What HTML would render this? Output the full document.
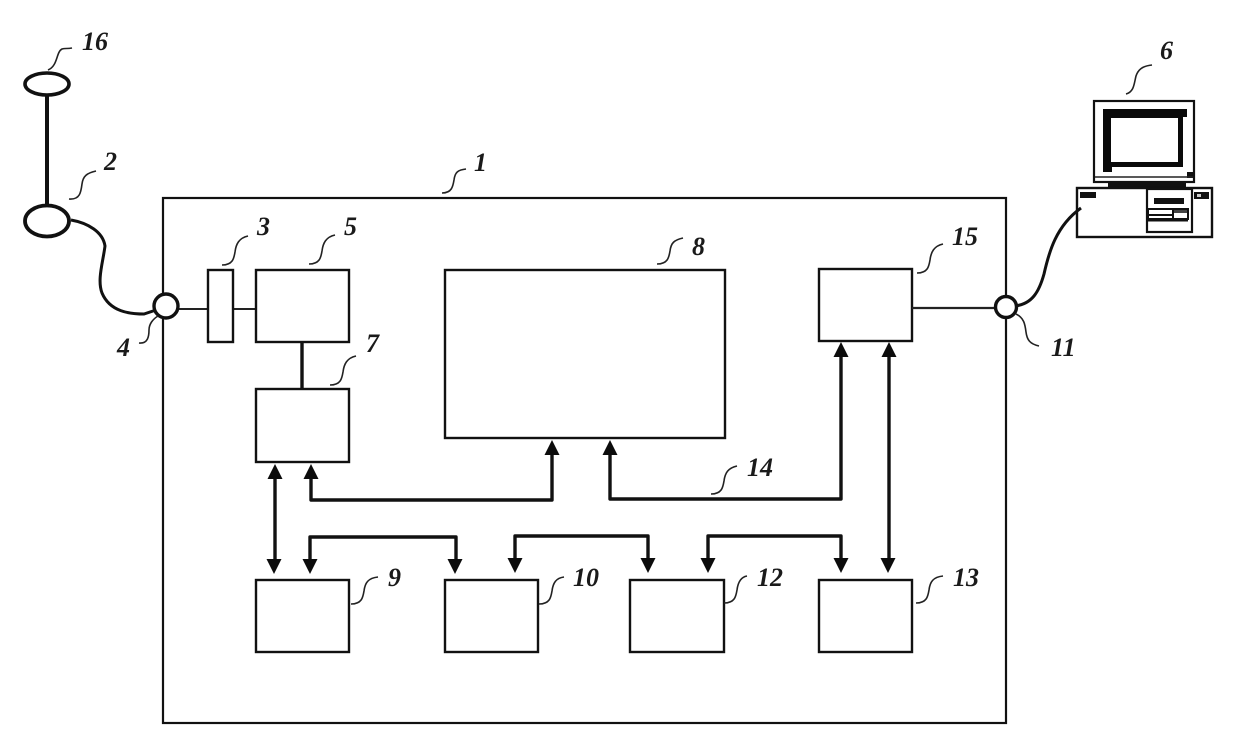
<!DOCTYPE html>
<html><head><meta charset="utf-8"><style>
html,body{margin:0;padding:0;background:#fff}
svg{display:block}
text{font-family:"Liberation Serif",serif;font-weight:bold;font-style:italic;font-size:26px;fill:#1a1a1a}
.b{fill:#fff;stroke:#111;stroke-width:2.4}
.l{fill:none;stroke:#222;stroke-width:1.6}
.w{fill:none;stroke:#111;stroke-width:3.4;stroke-linejoin:round}
.h{fill:#0c0c0c}
</style></head><body>
<svg width="1240" height="751" viewBox="0 0 1240 751" xmlns="http://www.w3.org/2000/svg">
<rect width="1240" height="751" fill="#fff"/>
<rect x="163" y="198" width="843" height="525" fill="none" stroke="#111" stroke-width="2.2"/>
<line x1="47" y1="95" x2="47" y2="205" stroke="#111" stroke-width="4"/>
<ellipse cx="47" cy="84" rx="22" ry="11" fill="#fff" stroke="#111" stroke-width="3.6"/>
<ellipse cx="47" cy="221" rx="22" ry="15.500" fill="#fff" stroke="#111" stroke-width="3.8"/>
<path d="M71 220C88 223 103 232 105 246C103 262 97 280 102 293C110 312 130 314 144 314L156 310" fill="none" stroke="#111" stroke-width="3"/>
<line x1="178" y1="309" x2="256" y2="309" stroke="#222" stroke-width="2"/>
<rect x="208" y="270" width="25" height="72" class="b"/>
<circle cx="166" cy="306" r="12" fill="#fff" stroke="#111" stroke-width="3.4"/>
<rect x="256" y="270" width="93" height="72" class="b"/>
<rect x="256" y="389" width="93" height="73" class="b"/>
<line x1="302" y1="342" x2="302" y2="389" stroke="#111" stroke-width="3.4"/>
<rect x="445" y="270" width="280" height="168" class="b"/>
<rect x="819" y="269" width="93" height="72" class="b"/>
<rect x="256" y="580" width="93" height="72" class="b"/>
<rect x="445" y="580" width="93" height="72" class="b"/>
<rect x="630" y="580" width="94" height="72" class="b"/>
<rect x="819" y="580" width="93" height="72" class="b"/>
<line x1="912" y1="308" x2="996" y2="308" stroke="#222" stroke-width="2.2"/>
<circle cx="1006" cy="307" r="10.500" fill="#fff" stroke="#111" stroke-width="3.4"/>
<path class="w" d="M275 475V562"/>
<path class="h" d="M275 464l7.500 15h-15zM274 574l-7.500-15h15z"/>
<path class="w" d="M311 475V500H552V452"/>
<path class="h" d="M311 464l7.500 15h-15zM552 440l7.500 15h-15z"/>
<path class="w" d="M610 452V499H841V354"/>
<path class="h" d="M610 440l7.500 15h-15zM841 342l7.500 15h-15z"/>
<path class="w" d="M889 354V562"/>
<path class="h" d="M889 342l7.500 15h-15zM888 573l-7.500-15h15z"/>
<path class="w" d="M310 562V537H456V562"/>
<path class="h" d="M310 574l-7.500-15h15zM455 574l-7.500-15h15z"/>
<path class="w" d="M515 562V536H648V562"/>
<path class="h" d="M515 573l-7.500-15h15zM648 573l-7.500-15h15z"/>
<path class="w" d="M708 562V536H841V562"/>
<path class="h" d="M708 573l-7.500-15h15zM841 573l-7.500-15h15z"/>
<g>
<rect x="1094" y="101" width="100" height="81" fill="#fff" stroke="#111" stroke-width="2.200"/>
<path d="M1103 109H1187V117H1183V167H1112V172H1103Z" fill="#0a0a0a"/>
<rect x="1111" y="118" width="67" height="44" fill="#fff"/>
<rect x="1187" y="172" width="6" height="6" fill="#111"/>
<line x1="1095" y1="177" x2="1193" y2="177" stroke="#222" stroke-width="1.500"/>
<rect x="1108" y="183" width="78" height="6" fill="#111"/>
<rect x="1077" y="188" width="135" height="49" fill="#fff" stroke="#111" stroke-width="2.400"/>
<rect x="1080" y="192" width="16" height="6" fill="#111"/>
<rect x="1194" y="192" width="15" height="7" fill="#111"/>
<rect x="1197" y="194" width="4" height="3" fill="#ccc"/>
<rect x="1147" y="189" width="45" height="43" fill="#fff" stroke="#111" stroke-width="2.200"/>
<rect x="1154" y="198" width="30" height="6" fill="#111"/>
<path d="M1148 209H1188V219H1148ZM1148 215H1173M1173 209V220" fill="none" stroke="#111" stroke-width="2"/>
<path d="M1148 220H1188" stroke="#111" stroke-width="3"/>
<rect x="1174" y="210" width="13" height="3" fill="#444"/>
</g>
<path d="M1015 306C1032 304 1039 292 1044 274C1049 252 1056 226 1081 208" fill="none" stroke="#111" stroke-width="3"/>
<path class="l" d="M48 70C58 66 56 52 62 49C65 48 67 49 72 48"/>
<path class="l" d="M69 199C80 200 81 192 82 184C83 176 87 173 96 171"/>
<path class="l" d="M442 193C452 193 453 186 454 180C455 172 458 170 466 169"/>
<path class="l" d="M222 265C233 265 234 258 235 252C236 244 239 238 248 236"/>
<path class="l" d="M309 264C320 264 321 257 322 251C323 243 326 237 335 235"/>
<path class="l" d="M657 264C668 264 669 257 670 251C671 243 674 240 683 238"/>
<path class="l" d="M917 273C928 273 929 266 930 260C931 252 934 246 943 244"/>
<path class="l" d="M1126 94C1134 92 1134 84 1136 76C1138 70 1142 66 1152 65"/>
<path class="l" d="M139 343C148 344 149 336 149 330C149 324 153 319 158 316"/>
<path class="l" d="M330 385C341 385 342 378 343 372C344 364 347 358 356 356"/>
<path class="l" d="M1016 314C1024 318 1025 324 1026 332C1027 340 1030 344 1039 346"/>
<path class="l" d="M711 494C722 494 723 487 724 481C725 473 728 468 737 466"/>
<path class="l" d="M351 604C362 604 363 597 364 591C365 583 368 578 378 577"/>
<path class="l" d="M539 604C550 604 551 597 552 591C553 583 556 578 564 577"/>
<path class="l" d="M724 603C735 603 736 596 737 590C738 582 741 577 747 576"/>
<path class="l" d="M916 603C927 603 928 596 929 590C930 582 933 577 943 576"/>
<text x="82" y="50">16</text>
<text x="104" y="170">2</text>
<text x="474" y="171">1</text>
<text x="257" y="235">3</text>
<text x="344" y="235">5</text>
<text x="692" y="255">8</text>
<text x="952" y="245">15</text>
<text x="1160" y="59">6</text>
<text x="117" y="356">4</text>
<text x="366" y="352">7</text>
<text x="1051" y="356">11</text>
<text x="747" y="476">14</text>
<text x="388" y="586">9</text>
<text x="573" y="586">10</text>
<text x="757" y="586">12</text>
<text x="953" y="586">13</text>
</svg>
</body></html>
